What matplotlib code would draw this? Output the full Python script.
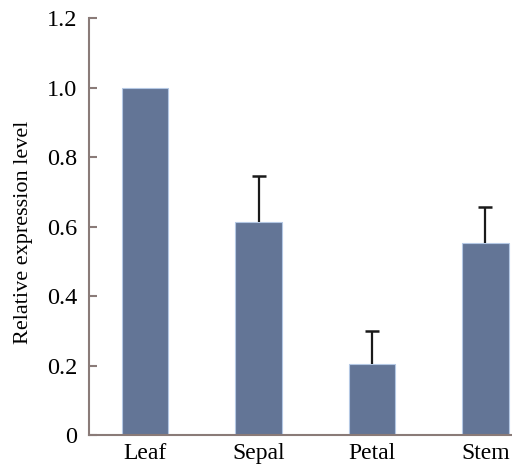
import matplotlib
matplotlib.use('Agg')
import matplotlib.pyplot as plt
import numpy as np

# Relative expression by tissue
tissues = ['Leaf', 'Sepal', 'Petal', 'Stem']
expression = [1.0, 0.614, 0.205, 0.552]
errors = [0.0, 0.132, 0.095, 0.104]
yticks = [0, 0.2, 0.4, 0.6, 0.8, 1.0, 1.2]
ytick_labels = ['0', '0.2', '0.4', '0.6', '0.8', '1.0', '1.2']

plt.rcParams['font.family'] = ['Liberation Serif', 'DejaVu Serif']

fig = plt.figure(figsize=(5.12, 4.69), dpi=100)
ax = fig.add_axes([0.1729, 0.0725, 0.8857, 0.889])

x = np.arange(len(tissues))
ax.bar(x, expression, width=0.41, color='#637596', edgecolor='#b4c8e4', linewidth=0.8,
       zorder=2)

# upper error bars only, cap drawn on top
vals = np.array(expression[1:])
errs = np.array(errors[1:])
ax.errorbar(x[1:], vals, yerr=[np.zeros(3), errs], fmt='none',
            ecolor='#1a1a1a', elinewidth=1.6, capsize=0, zorder=3)
ax.plot(x[1:], vals + errs, linestyle='none', marker='_', markersize=10,
        markeredgewidth=1.8, color='#1a1a1a', zorder=3)

ax.set_xlim(-0.5, 3.5)
ax.set_ylim(0, 1.2)
ax.set_xticks(x)
ax.set_xticklabels(tissues, fontsize=17)
ax.set_yticks(yticks)
ax.set_yticklabels(ytick_labels, fontsize=17.5)
ax.set_ylabel('Relative expression level', fontsize=16)
ax.yaxis.set_label_coords(-0.122, 0.485)

for side in ['top', 'right']:
    ax.spines[side].set_visible(False)
for side in ['left', 'bottom']:
    ax.spines[side].set_color('#8a7b78')
    ax.spines[side].set_linewidth(1.5)

ax.tick_params(axis='x', length=0, pad=6)
ax.tick_params(axis='y', direction='in', length=6, width=1.5, color='#8a7b78', pad=8)

fig.savefig('out.png', dpi=100)
